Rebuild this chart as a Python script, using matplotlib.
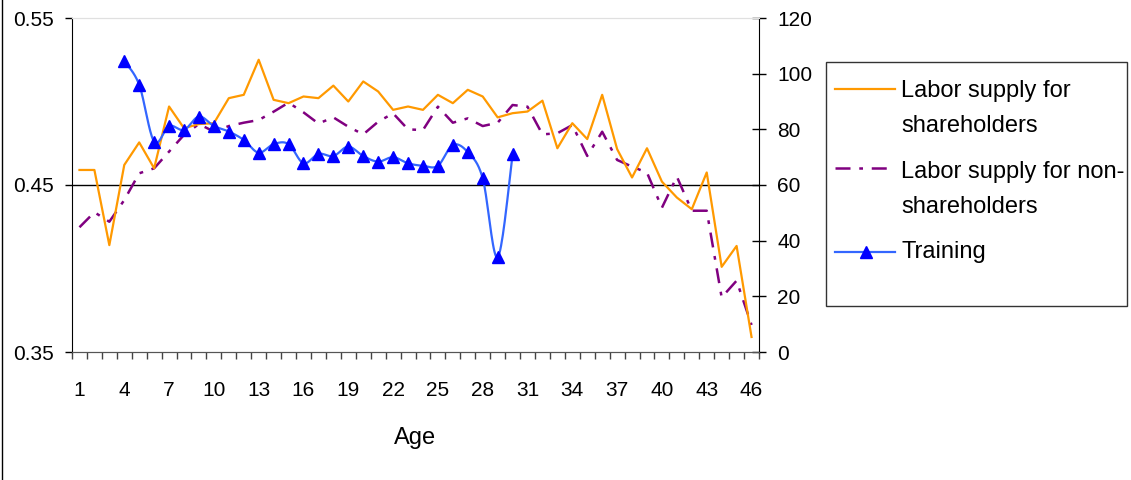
import numpy as np
import matplotlib.pyplot as plt
from matplotlib import font_manager
from matplotlib.lines import Line2D
from matplotlib.patches import Rectangle

# Data
ages = list(range(1, 47))
shareholders = [0.459, 0.459, 0.414, 0.462, 0.4755, 0.460, 0.497, 0.484, 0.4865, 0.487,
                0.502, 0.504, 0.525, 0.501, 0.499, 0.503, 0.502, 0.5095, 0.500, 0.512,
                0.506, 0.495, 0.497, 0.495, 0.504, 0.499, 0.507, 0.503, 0.4905, 0.493,
                0.494, 0.5005, 0.472, 0.487, 0.4775, 0.504, 0.4715, 0.4545, 0.472, 0.452,
                0.4425, 0.4355, 0.4575, 0.401, 0.4135, 0.359]
non_shareholders = [0.4247, 0.4337, 0.428, 0.441, 0.457, 0.460, 0.470, 0.480, 0.4865, 0.482,
                    0.4853, 0.4873, 0.4889, 0.4939, 0.4993, 0.4935, 0.4868, 0.4905, 0.4849, 0.4803,
                    0.4879, 0.4929, 0.4833, 0.4829, 0.4969, 0.4873, 0.4899, 0.4853, 0.4873, 0.4979,
                    0.4969, 0.4803, 0.481, 0.4859, 0.4674, 0.4819, 0.465, 0.461, 0.4574, 0.4364,
                    0.455, 0.4346, 0.4346, 0.3827, 0.3927, 0.3662]
training_ages = list(range(4, 31))
training = [104.5, 96.0, 75.6, 81.2, 79.8, 84.6, 81.2, 79.2, 76.2, 71.6,
            74.7, 74.7, 67.8, 71.2, 70.4, 73.8, 70.4, 68.4, 70.0, 67.8,
            66.9, 66.9, 74.4, 71.8, 62.4, 34.0, 71.0]

left_ticks = [0.35, 0.45, 0.55]
right_ticks = [0, 20, 40, 60, 80, 100, 120]
x_tick_ages = list(range(1, 47, 3))

names = {f.name for f in font_manager.fontManager.ttflist}
if "Liberation Sans Narrow" in names:
    family, tick_fs, leg_fs = "Liberation Sans Narrow", 16.5, 20.5
else:
    family, tick_fs, leg_fs = "Liberation Sans", 15, 17
plt.rcParams["font.family"] = [family, "DejaVu Sans"]


# Excel-style smoothed line (cardinal spline through the points)
def smooth(x, y, n=20):
    x = np.asarray(x, float)
    y = np.asarray(y, float)
    px = np.concatenate([[x[0]], x, [x[-1]]])
    py = np.concatenate([[y[0]], y, [y[-1]]])
    t = np.linspace(0, 1, n)
    xs, ys = [], []
    for i in range(1, len(px) - 2):
        b0 = np.array([px[i], py[i]])
        b3 = np.array([px[i + 1], py[i + 1]])
        b1 = b0 + (b3 - np.array([px[i - 1], py[i - 1]])) / 6
        b2 = b3 - (np.array([px[i + 2], py[i + 2]]) - b0) / 6
        pts = (np.outer((1 - t) ** 3, b0) + np.outer(3 * (1 - t) ** 2 * t, b1)
               + np.outer(3 * (1 - t) * t ** 2, b2) + np.outer(t ** 3, b3))
        xs.extend(pts[:, 0])
        ys.extend(pts[:, 1])
    return xs, ys


W, H = 1131, 480
fig = plt.figure(figsize=(W / 100, H / 100), dpi=100)
ax = fig.add_axes([72 / W, 128 / H, 687 / W, 334 / H])
ax2 = ax.twinx()

ax.axhline(0.45, color="black", lw=1, zorder=1)
ax.plot(ages, shareholders, color="#FF9900", lw=1.6, zorder=3)
ax.plot(ages, non_shareholders, color="#800080", lw=1.8,
        linestyle=(0, (6, 3.5, 1.5, 3.5)), zorder=2)

sx, sy = smooth(training_ages, training)
ax2.plot(sx, sy, color="#3366FF", lw=1.6)
ax2.plot(training_ages, training, linestyle="none", marker="^",
         markersize=9, color="#0000FF")

ax.set_xlim(0.5, 46.5)
ax.set_ylim(0.35, 0.55)
ax2.set_ylim(0, 120)

ax.set_yticks(left_ticks)
ax.set_yticklabels([f"{v:.2f}" for v in left_ticks])
ax.tick_params(axis="y", direction="out", length=5, width=1, pad=8, labelsize=tick_fs)
ax2.set_yticks(right_ticks)
ax2.tick_params(axis="y", direction="inout", length=10, width=1, pad=8, labelsize=tick_fs)

ax.set_xticks(x_tick_ages)
ax.set_xticks(np.arange(0.5, 47, 1), minor=True)
ax.tick_params(axis="x", which="major", length=0, pad=21, labelsize=tick_fs)
ax.tick_params(axis="x", which="minor", direction="out", length=5, width=1, color="#444444")

ax.set_xlabel("Age", fontsize=17, family="Liberation Sans")
ax.xaxis.set_label_coords(0.5, -0.225)

for a in (ax, ax2):
    a.spines["top"].set_color("#e0e0e0")
    a.spines["bottom"].set_color("#555555")
ax.spines["right"].set_visible(False)
ax2.spines["left"].set_visible(False)

# chart area border (left edge visible in the reference)
fig.add_artist(Line2D([2 / W, 2 / W], [0, 1], transform=fig.transFigure, color="black", lw=1))


# legend box drawn in figure pixels
def fx(px):
    return px / W


def fy(py):
    return 1 - py / H


fig.add_artist(Rectangle((fx(826), fy(306)), fx(1127) - fx(826), fy(62) - fy(306),
                         transform=fig.transFigure, fill=False, edgecolor="#333333", lw=1))
fig.add_artist(Line2D([fx(835), fx(895)], [fy(89), fy(89)], transform=fig.transFigure,
                      color="#FF9900", lw=1.6))
fig.add_artist(Line2D([fx(835), fx(895)], [fy(168), fy(168)], transform=fig.transFigure,
                      color="#800080", lw=1.8, linestyle=(0, (6, 3.5, 1.5, 3.5))))
fig.add_artist(Line2D([fx(835), fx(895)], [fy(252), fy(252)], transform=fig.transFigure,
                      color="#3366FF", lw=1.6))
fig.add_artist(Line2D([fx(866)], [fy(252)], transform=fig.transFigure, linestyle="none",
                      marker="^", markersize=9, color="#0000FF"))

legend_lines = [("Labor supply for", 96.7), ("shareholders", 131.7),
                ("Labor supply for non-", 178.3), ("shareholders", 212.7),
                ("Training", 258.3)]
for txt, base in legend_lines:
    fig.text(fx(901), fy(base), txt, fontsize=leg_fs, va="baseline", ha="left")

fig.savefig("out.png", dpi=100)
